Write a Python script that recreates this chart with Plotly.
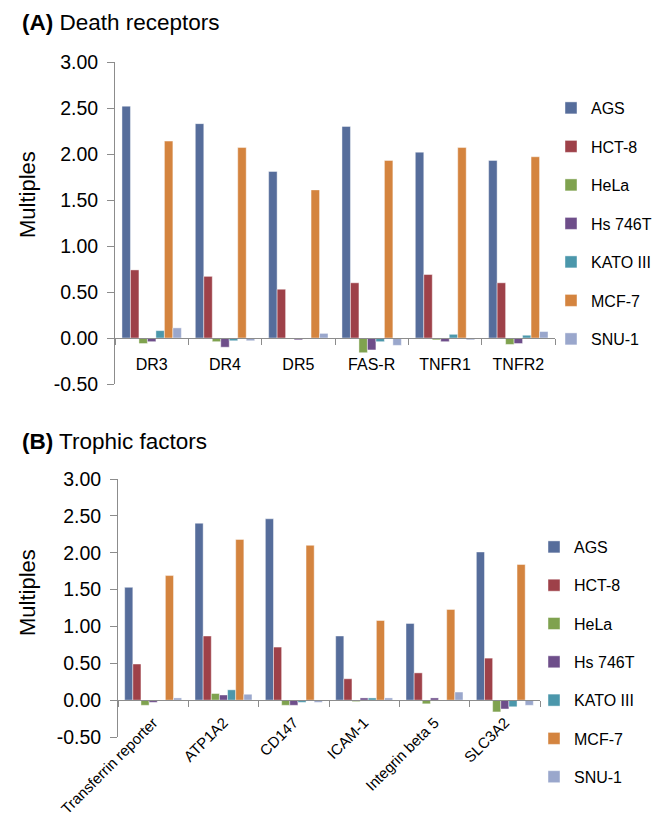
import plotly.graph_objects as go

W, H = 652, 819

cell_lines = ["AGS", "HCT-8", "HeLa", "Hs 746T", "KATO III", "MCF-7", "SNU-1"]
colors = ["#566D9B", "#9E4149", "#7FA24F", "#6E4E8A", "#4B97AB", "#D4843F", "#9AA7CC"]

# Panel A: death receptors
cats_a = ["DR3", "DR4", "DR5", "FAS-R", "TNFR1", "TNFR2"]
ags_a = [2.52, 2.33, 1.81, 2.30, 2.02, 1.93]
hct8_a = [0.74, 0.67, 0.53, 0.60, 0.69, 0.60]
hela_a = [-0.06, -0.04, 0.00, -0.16, -0.02, -0.07]
hs746t_a = [-0.04, -0.10, -0.02, -0.13, -0.04, -0.06]
kato_a = [0.08, -0.03, 0.00, -0.04, 0.04, 0.03]
mcf7_a = [2.14, 2.07, 1.61, 1.93, 2.07, 1.97]
snu1_a = [0.11, -0.03, 0.05, -0.08, -0.02, 0.07]

# Panel B: trophic factors
cats_b = ["Transferrin reporter", "ATP1A2", "CD147", "ICAM-1", "Integrin beta 5", "SLC3A2"]
ags_b = [1.53, 2.40, 2.46, 0.87, 1.04, 2.01]
hct8_b = [0.49, 0.87, 0.72, 0.29, 0.37, 0.57]
hela_b = [-0.07, 0.09, -0.07, -0.02, -0.05, -0.16]
hs746t_b = [-0.03, 0.07, -0.07, 0.03, 0.03, -0.12]
kato_b = [0.00, 0.14, -0.03, 0.03, 0.00, -0.09]
mcf7_b = [1.69, 2.18, 2.10, 1.08, 1.23, 1.84]
snu1_b = [0.03, 0.08, -0.03, 0.03, 0.11, -0.07]

y_tickvals = [-0.5, 0.0, 0.5, 1.0, 1.5, 2.0, 2.5, 3.0]
y_ticktext = ["-0.50", "0.00", "0.50", "1.00", "1.50", "2.00", "2.50", "3.00"]
y_range = [-0.5, 3.0]

series_a = [ags_a, hct8_a, hela_a, hs746t_a, kato_a, mcf7_a, snu1_a]
series_b = [ags_b, hct8_b, hela_b, hs746t_b, kato_b, mcf7_b, snu1_b]

FONT = "Liberation Sans, Arial, sans-serif"
AX = "#8C8C8C"

def px_x(p):
    return p / W

def px_y(p):
    return 1 - p / H

fig = go.Figure()

for i, (name, vals) in enumerate(zip(cell_lines, series_a)):
    fig.add_trace(go.Bar(x=cats_a, y=vals, name=name, marker_color=colors[i],
                         marker_line=dict(color="rgba(255,255,255,0.55)", width=0.8),
                         xaxis="x", yaxis="y", legend="legend", legendgroup="a%d" % i))
for i, (name, vals) in enumerate(zip(cell_lines, series_b)):
    fig.add_trace(go.Bar(x=cats_b, y=vals, name=name, marker_color=colors[i],
                         marker_line=dict(color="rgba(255,255,255,0.55)", width=0.8),
                         xaxis="x2", yaxis="y2", legend="legend2", legendgroup="b%d" % i))

dom_ya = [px_y(384), px_y(62)]
dom_yb = [px_y(737), px_y(479)]
zero_frac = (0 - y_range[0]) / (y_range[1] - y_range[0])
pos_a = dom_ya[0] + zero_frac * (dom_ya[1] - dom_ya[0])
pos_b = dom_yb[0] + zero_frac * (dom_yb[1] - dom_yb[0])

yax_common = dict(range=y_range, tickvals=y_tickvals, ticktext=y_ticktext,
                  showline=True, linecolor=AX, linewidth=1, ticks="outside",
                  ticklen=7, tickcolor=AX, showgrid=False, zeroline=False,
                  tickfont=dict(size=19.5, color="black", family=FONT),
                  ticklabelstandoff=5, automargin=False)
xax_common = dict(type="category", showline=True, linecolor=AX, linewidth=1,
                  ticks="outside", tickson="boundaries", ticklen=6, tickcolor=AX,
                  showgrid=False, zeroline=False, anchor="free", automargin=False)

fig.update_layout(
    width=W, height=H,
    margin=dict(l=0, r=0, t=0, b=0, autoexpand=False),
    paper_bgcolor="white", plot_bgcolor="white",
    font=dict(family=FONT, color="black"),
    barmode="group", bargap=0.19, bargroupgap=0,
    xaxis=dict(domain=[px_x(115), px_x(555)], position=pos_a,
               tickfont=dict(size=16, family=FONT, color="black"),
               ticklabelstandoff=12, **xax_common),
    yaxis=dict(domain=dom_ya, anchor="x", **yax_common),
    xaxis2=dict(domain=[px_x(118), px_x(540)], position=pos_b,
                tickangle=-45, tickfont=dict(size=15, family=FONT, color="black"),
                ticklabelstandoff=7, **xax_common),
    yaxis2=dict(domain=dom_yb, anchor="x2", **yax_common),
    legend=dict(x=px_x(551), y=px_y(91), xanchor="left", yanchor="top",
                font=dict(size=16, family=FONT, color="black"),
                bgcolor="rgba(0,0,0,0)", tracegroupgap=14.7),
    legend2=dict(x=px_x(534), y=px_y(530), xanchor="left", yanchor="top",
                 font=dict(size=16, family=FONT, color="black"),
                 bgcolor="rgba(0,0,0,0)", tracegroupgap=14.5),
    showlegend=True,
)

fig.add_annotation(text="<b>(A)</b> Death receptors", x=px_x(20), y=px_y(22),
                   xref="paper", yref="paper", xanchor="left", yanchor="middle",
                   showarrow=False, font=dict(size=22.5, family=FONT, color="black"))
fig.add_annotation(text="<b>(B)</b> Trophic factors", x=px_x(20), y=px_y(441),
                   xref="paper", yref="paper", xanchor="left", yanchor="middle",
                   showarrow=False, font=dict(size=22.5, family=FONT, color="black"))
fig.add_annotation(text="Multiples", x=px_x(27), y=px_y(194), xref="paper", yref="paper",
                   xanchor="center", yanchor="middle", textangle=-90, showarrow=False,
                   font=dict(size=22, family=FONT, color="black"))
fig.add_annotation(text="Multiples", x=px_x(27), y=px_y(592), xref="paper", yref="paper",
                   xanchor="center", yanchor="middle", textangle=-90, showarrow=False,
                   font=dict(size=22, family=FONT, color="black"))

fig.write_html("out.html", config={"displayModeBar": False},
               post_script="document.body.style.margin='0';")
